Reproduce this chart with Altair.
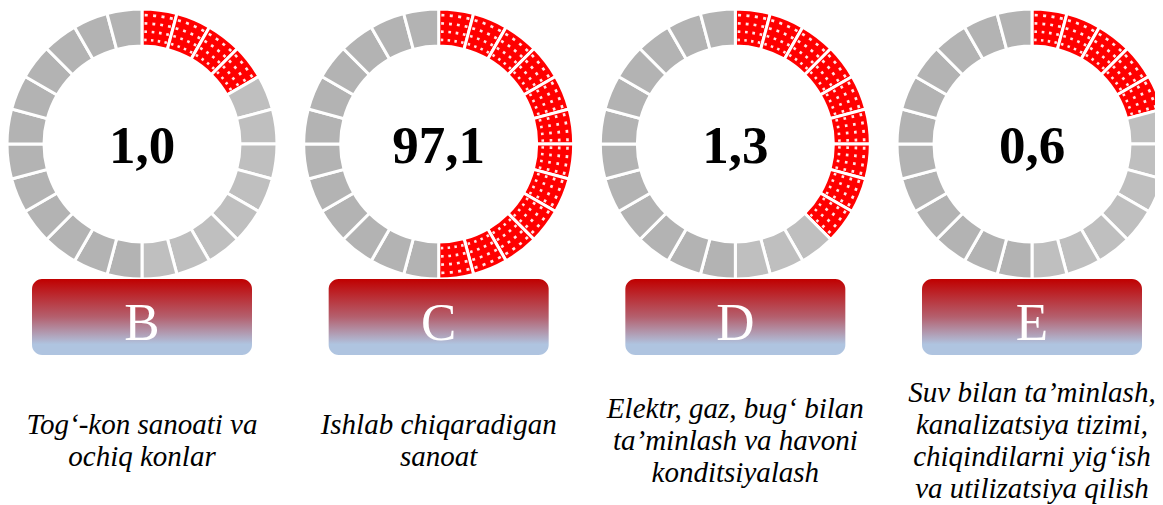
import altair as alt
import pandas as pd
import numpy as np

# ---- data ----
categories = ["B", "C", "D", "E"]
values = [1.0, 97.1, 1.3, 0.6]
red_segments = [4, 12, 9, 5]
labels = [
    "Tog‘-kon sanoati va\nochiq konlar",
    "Ishlab chiqaradigan\nsanoat",
    "Elektr, gaz, bug‘ bilan\nta’minlash va havoni\nkonditsiyalash",
    "Suv bilan ta’minlash,\nkanalizatsiya tizimi,\nchiqindilarni yig‘ish\nva utilizatsiya qilish",
]
n_segments = 24

# ---- tables built from the arrays ----
ring_rows = []
dot_rows = []
for cat, nred in zip(categories, red_segments):
    for s in range(n_segments):
        kind = "red" if s < nred else ("light" if s < n_segments // 2 else "dark")
        ring_rows.append({"cat": cat, "seg": s, "kind": kind})
        if s < nred:
            for a in range(4):
                for b in range(4):
                    dot_rows.append({"cat": cat, "seg": s, "a": a, "b": b})
ring_df = pd.DataFrame(ring_rows)
dot_df = pd.DataFrame(dot_rows)
text_df = pd.DataFrame({
    "cat": categories,
    "vlabel": [f"{v:.1f}".replace(".", ",") for v in values],
})
line_rows = []
for cat, lab in zip(categories, labels):
    parts = lab.split("\n")
    for i, p in enumerate(parts):
        line_rows.append({"cat": cat, "line": p, "pos": i - (len(parts) - 1) / 2})
line_df = pd.DataFrame(line_rows)

x_enc = alt.X("cat:N", axis=None,
              scale=alt.Scale(type="point", domain=categories, range=[134, 1024], padding=0))
theta_scale = alt.Scale(domain=[0, n_segments], range=[0, 2 * np.pi])
ring_y = alt.value(136)

ring = alt.Chart(ring_df).mark_arc(
    innerRadius=98, outerRadius=135, stroke="white", strokeWidth=3
).transform_calculate(
    t0="datum.seg", t1="datum.seg + 1"
).encode(
    x=x_enc, y=ring_y,
    theta=alt.Theta("t0:Q", scale=theta_scale, stack=None),
    theta2="t1:Q",
    color=alt.Color("kind:N", legend=None,
                    scale=alt.Scale(domain=["red", "light", "dark"],
                                    range=["#ff0000", "#bfbfbf", "#b3b3b3"])),
)

dots = alt.Chart(dot_df).mark_arc(fill="white", opacity=0.9).transform_calculate(
    t0="datum.seg + (datum.a + 0.5) / 4 - 0.045",
    t1="datum.seg + (datum.a + 0.5) / 4 + 0.045",
    r0="(datum.b + 0.5) / 4 - 0.04",
    r1="(datum.b + 0.5) / 4 + 0.04",
).encode(
    x=x_enc, y=ring_y,
    theta=alt.Theta("t0:Q", scale=theta_scale, stack=None),
    theta2="t1:Q",
    radius=alt.Radius("r0:Q", scale=alt.Scale(type="linear", domain=[0, 1], range=[100, 133], zero=False)),
    radius2="r1:Q",
)

numbers = alt.Chart(text_df).mark_text(
    font="Liberation Serif", fontSize=53, fontWeight="bold",
    align="center", baseline="alphabetic", color="black"
).encode(x=x_enc, y=alt.value(155), text="vlabel:N")

box_fill = alt.Gradient(
    gradient="linear", x1=0, y1=0, x2=0, y2=1,
    stops=[
        alt.GradientStop(color="#c00000", offset=0),
        alt.GradientStop(color="#b4606e", offset=0.5),
        alt.GradientStop(color="#afc4e0", offset=0.86),
        alt.GradientStop(color="#afc4e0", offset=1),
    ],
)
boxes = alt.Chart(text_df).mark_rect(
    width=220, cornerRadius=10, fill=box_fill
).encode(x=x_enc, y=alt.value(271), y2=alt.value(347))

letters = alt.Chart(text_df).mark_text(
    font="Liberation Serif", fontSize=53, align="center",
    baseline="alphabetic", color="white"
).encode(x=x_enc, y=alt.value(332), text="cat:N")

desc = alt.Chart(line_df).mark_text(
    font="Liberation Serif", fontStyle="italic", fontSize=29,
    align="center", baseline="alphabetic", color="black"
).encode(
    x=x_enc,
    y=alt.Y("pos:Q", axis=None,
            scale=alt.Scale(domain=[-1.5, 1.5], range=[393.6, 490], zero=False, nice=False)),
    text="line:N",
)

chart = alt.layer(ring, dots, numbers, boxes, letters, desc).properties(
    width=1147, height=497,
    autosize=alt.AutoSizeParams(type="none"),
    padding=0,
).configure_view(stroke=None)

chart.save("out.html", embed_options={"renderer": "svg", "actions": False})
